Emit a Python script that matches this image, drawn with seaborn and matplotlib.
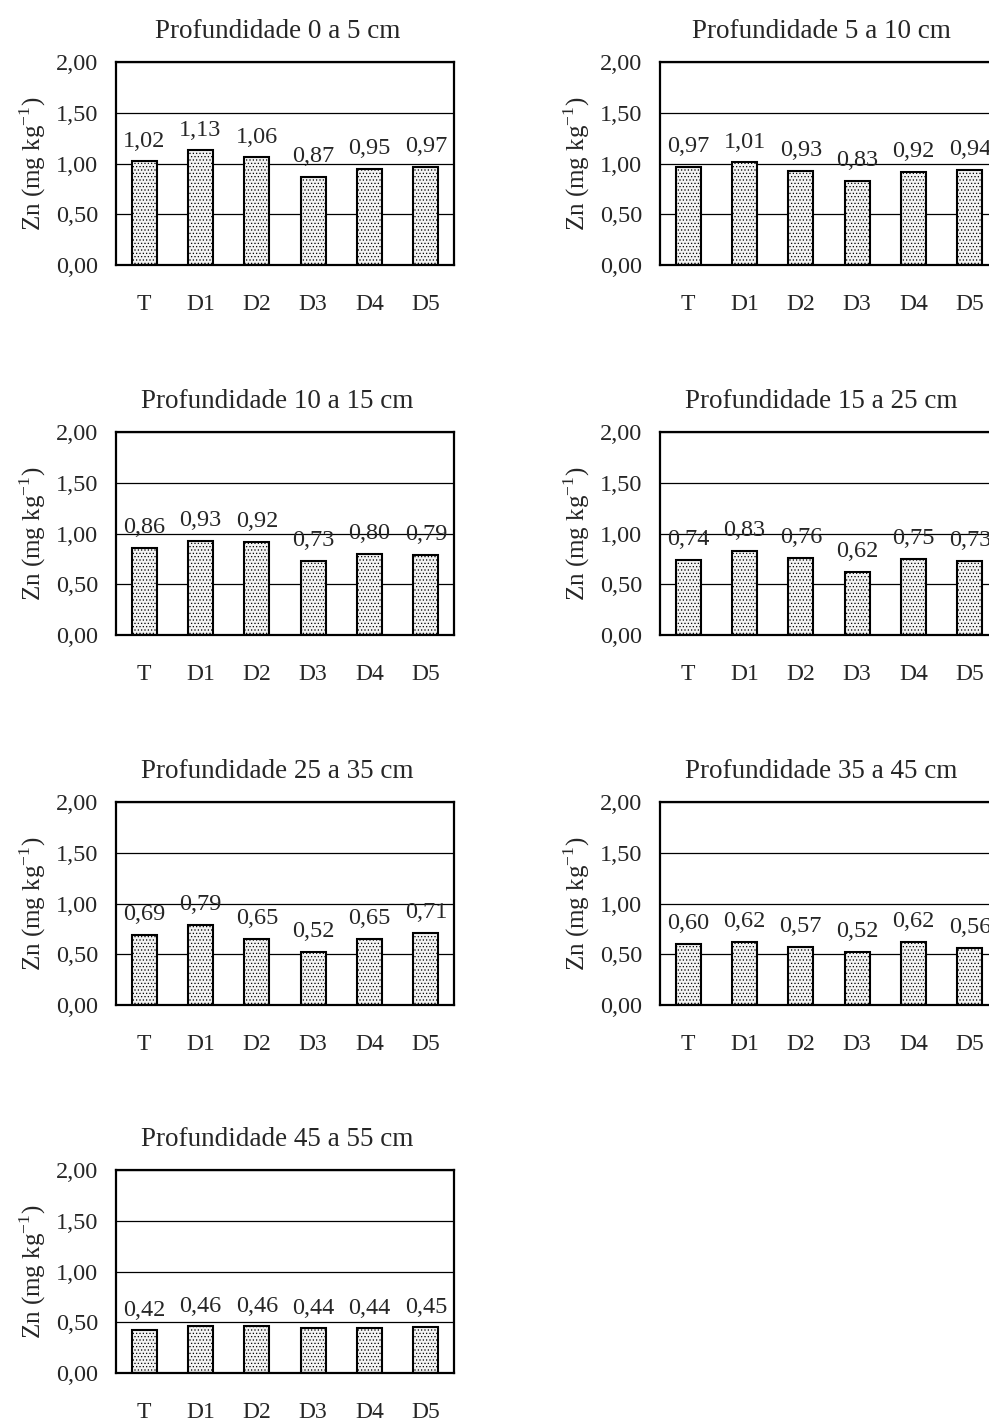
import numpy as np
import pandas as pd
import matplotlib
matplotlib.use('Agg')
import matplotlib.pyplot as plt
from matplotlib.ticker import FuncFormatter
import seaborn as sns

# data: Zn (mg kg-1) per treatment, per soil depth
tratamentos = ['T', 'D1', 'D2', 'D3', 'D4', 'D5']
profundidades = ['0 a 5', '5 a 10', '10 a 15', '15 a 25', '25 a 35', '35 a 45', '45 a 55']
zn_0_5 = [1.02, 1.13, 1.06, 0.87, 0.95, 0.97]
zn_5_10 = [0.97, 1.01, 0.93, 0.83, 0.92, 0.94]
zn_10_15 = [0.86, 0.93, 0.92, 0.73, 0.80, 0.79]
zn_15_25 = [0.74, 0.83, 0.76, 0.62, 0.75, 0.73]
zn_25_35 = [0.69, 0.79, 0.65, 0.52, 0.65, 0.71]
zn_35_45 = [0.60, 0.62, 0.57, 0.52, 0.62, 0.56]
zn_45_55 = [0.42, 0.46, 0.46, 0.44, 0.44, 0.45]
y_ticks = [0.0, 0.5, 1.0, 1.5, 2.0]

series = [zn_0_5, zn_5_10, zn_10_15, zn_15_25, zn_25_35, zn_35_45, zn_45_55]
df = pd.DataFrame({
    'prof': np.repeat(profundidades, len(tratamentos)),
    'trat': tratamentos * len(profundidades),
    'zn': np.concatenate(series),
})

sns.set_theme(style='white')
plt.rcParams['font.family'] = ['Liberation Serif', 'DejaVu Serif']
plt.rcParams['hatch.linewidth'] = 0.5

W, H = 989, 1424
fig = plt.figure(figsize=(W / 100, H / 100), dpi=100)

def virgula(v, pos=None):
    return f'{v:.2f}'.replace('.', ',')

# panel boxes in pixels: (left, top)
ax_w, ax_h = 338, 203
lefts = [116, 660]
tops = [62, 432, 802, 1170]

for i, prof in enumerate(profundidades):
    row, col = divmod(i, 2)
    l, t = lefts[col], tops[row]
    ax = fig.add_axes([l / W, 1 - (t + ax_h) / H, ax_w / W, ax_h / H])
    sub = df[df['prof'] == prof]
    sns.barplot(data=sub, x='trat', y='zn', order=tratamentos, ax=ax,
                color='white', edgecolor='black', linewidth=1.5,
                width=0.44, hatch='.....', errorbar=None, saturation=1)
    for p in ax.patches:
        p.set_facecolor('#f2f2f2')
    ax.bar_label(ax.containers[0], labels=[virgula(v) for v in sub['zn']],
                 padding=7, fontsize=17.5)

    ax.set_ylim(0, 2.0)
    ax.set_xlim(-0.5, 5.5)
    ax.set_yticks(y_ticks)
    ax.yaxis.set_major_formatter(FuncFormatter(virgula))
    ax.grid(axis='y', color='black', linewidth=0.9)
    ax.set_axisbelow(True)

    # ticks on the category boundaries, labels at the bar centres
    ax.set_xticks(np.arange(-0.5, 6, 1))
    ax.set_xticklabels([])
    ax.set_xticks(range(len(tratamentos)), minor=True)
    ax.set_xticklabels(tratamentos, minor=True, fontsize=17)
    ax.tick_params(axis='x', which='major', direction='out', length=4, width=0.8, color='black')
    ax.tick_params(axis='x', which='minor', length=0, pad=21)
    ax.tick_params(axis='y', direction='out', length=4, width=0.8, color='black',
                   labelsize=17.5, pad=9)

    for s in ax.spines.values():
        s.set_color('black')
        s.set_linewidth(1.6)

    ax.set_xlabel('')
    ax.set_ylabel(r'Zn (mg kg$^{\mathregular{-1}}$)', fontsize=18)
    ax.yaxis.set_label_coords(-0.2, 0.5)
    ax.set_title(f'Profundidade {prof} cm', fontsize=19.5, pad=17, x=0.478)

fig.savefig('out.png', dpi=100)
